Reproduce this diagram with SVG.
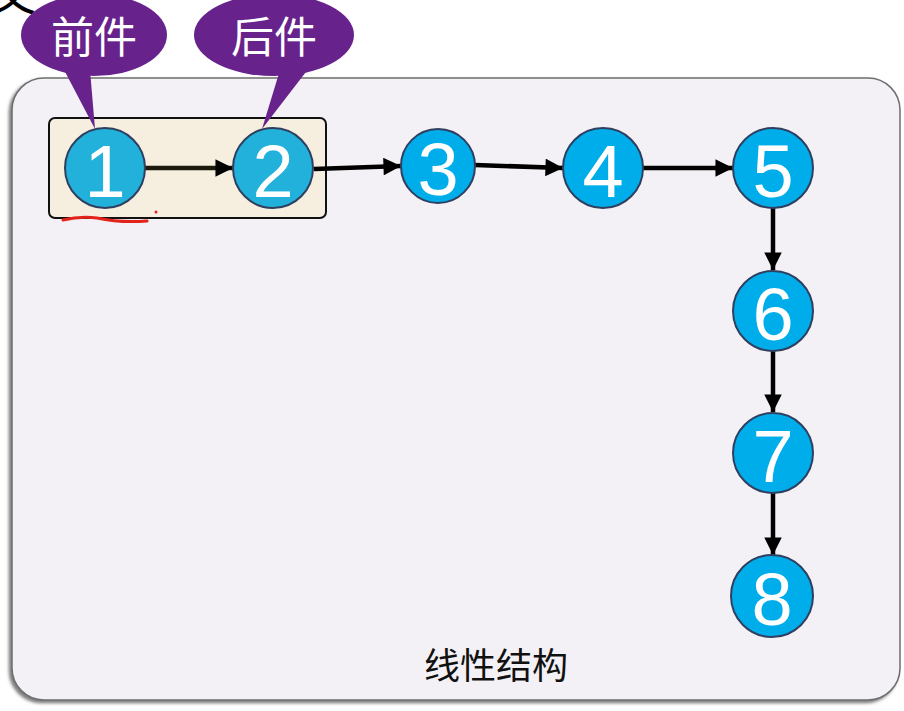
<svg xmlns="http://www.w3.org/2000/svg" width="904" height="711" viewBox="0 0 904 711">
<defs>
<style>
.node circle{stroke:#2f3f5f;stroke-width:2}
.n1 circle{fill:#22b1da}
.n2 circle{fill:#00adeb}
.num{font-family:"Liberation Sans",Arial,sans-serif;font-size:74px;fill:#ffffff;text-anchor:middle}
.call{fill:#67228c}
.ctext{font-family:"Noto Sans CJK SC","Noto Sans",sans-serif;font-size:43px;fill:#ffffff;text-anchor:middle}
.conn line{stroke:#000000;stroke-width:4.5;marker-end:url(#arr)}
</style>
<marker id="arr" viewBox="0 0 10 10" refX="10" refY="5" markerWidth="4.1" markerHeight="3.9" orient="auto" markerUnits="strokeWidth">
<path d="M0,0 L10,5 L0,10 z" fill="#000000"/>
</marker>
<filter id="sh" x="-5%" y="-5%" width="110%" height="110%">
<feDropShadow dx="-2.5" dy="2.5" stdDeviation="1.5" flood-color="#444444" flood-opacity="0.7"/>
</filter>
</defs>
<rect width="904" height="711" fill="#ffffff"/>
<text x="-10" y="10" font-family="Noto Sans CJK SC,sans-serif" font-size="46" fill="#000">文</text>
<g id="panel">
<rect x="12" y="78" width="888" height="622" rx="32" fill="#f3f1f5" stroke="#6e6e6e" stroke-width="1.5" filter="url(#sh)"/>
</g>
<g id="group12">
<rect x="49" y="118" width="277" height="100" rx="6" fill="#f6efdf" stroke="#111" stroke-width="2"/>
</g>
<g id="connectors" class="conn">
<line x1="145" y1="168" x2="233" y2="168" style="stroke:#1c1a0c"/>
<line x1="314" y1="169" x2="401" y2="166"/>
<line x1="475" y1="165" x2="563" y2="168"/>
<line x1="643" y1="168" x2="733" y2="168"/>
<line x1="773" y1="208" x2="773" y2="270"/>
<line x1="773" y1="351" x2="773" y2="412"/>
<line x1="773" y1="493" x2="773" y2="555"/>
</g>
<g id="node1" class="node n1"><circle cx="105" cy="168" r="40"/><text class="num" x="105" y="197">1</text></g>
<g id="node2" class="node n1"><circle cx="273" cy="168" r="40"/><text class="num" x="273" y="197">2</text></g>
<g id="node3" class="node n2"><circle cx="438" cy="166" r="37"/><text class="num" x="438" y="195">3</text></g>
<g id="node4" class="node n2"><circle cx="603" cy="168" r="40"/><text class="num" x="603" y="197">4</text></g>
<g id="node5" class="node n2"><circle cx="773" cy="168" r="40"/><text class="num" x="773" y="197">5</text></g>
<g id="node6" class="node n2"><circle cx="773" cy="311" r="40"/><text class="num" x="773" y="340">6</text></g>
<g id="node7" class="node n2"><circle cx="773" cy="453" r="40"/><text class="num" x="773" y="482">7</text></g>
<g id="node8" class="node n2"><circle cx="772" cy="596" r="41"/><text class="num" x="772" y="625">8</text></g>
<g id="callout-qian">
<ellipse class="call" cx="94" cy="35" rx="73" ry="41"/>
<path class="call" d="M62,66 L95,129 L90,70 z"/>
<text class="ctext" x="94" y="53">前件</text>
</g>
<g id="callout-hou">
<ellipse class="call" cx="274" cy="35" rx="80" ry="41"/>
<path class="call" d="M280,70 L262,129 L309,68 z"/>
<text class="ctext" x="274" y="53">后件</text>
</g>
<g id="annotation">
<path d="M63,220 Q80,216 97,218 Q120,223 147,221" fill="none" stroke="#e2231a" stroke-width="3" stroke-linecap="round"/>
<circle cx="156" cy="212" r="1.5" fill="#e2231a"/>
</g>
<text x="496" y="679" font-family="Noto Sans CJK SC,sans-serif" font-size="36" fill="#111" text-anchor="middle">线性结构</text>
</svg>
